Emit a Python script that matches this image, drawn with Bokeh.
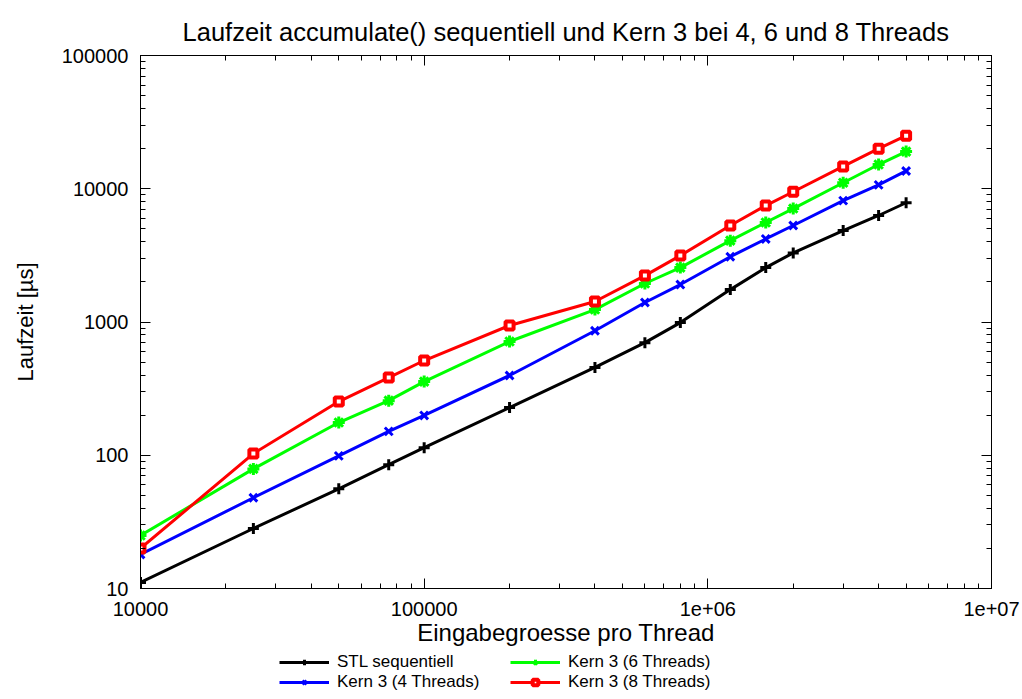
from bokeh.plotting import figure
from bokeh.layouts import column
from bokeh.models import (LogAxis, LogTicker, CustomJSTickFormatter, Legend, LegendItem,
                          Range1d)
from bokeh.embed import file_html
from bokeh.resources import INLINE

# ---- data ----
sizes = [10000, 25000, 50000, 75000, 100000, 200000, 400000, 600000, 800000,
         1200000, 1600000, 2000000, 3000000, 4000000, 5000000]
stl_seq = [11.1, 28.2, 56, 85, 114, 228, 456, 700, 990, 1750, 2560, 3300, 4850, 6300, 7850]
kern3_4 = [18, 48, 99, 151, 199, 397, 860, 1400, 1910, 3090, 4200, 5300, 8150, 10700, 13600]
kern3_6 = [25, 79, 176, 257, 357, 714, 1240, 1945, 2560, 4080, 5580, 7100, 11100, 15200, 19000]
kern3_8 = [20, 103, 253, 383, 514, 942, 1425, 2230, 3150, 5300, 7480, 9500, 14700, 20000, 25000]

series_names = ["STL sequentiell", "Kern 3 (4 Threads)", "Kern 3 (6 Threads)", "Kern 3 (8 Threads)"]
title_text = "Laufzeit accumulate() sequentiell und Kern 3 bei 4, 6 und 8 Threads"
x_label = "Eingabegroesse pro Thread"
y_label = "Laufzeit [\u00b5s]"

FONT = "Liberation Sans"

p = figure(frame_width=851, frame_height=533, x_axis_type="log", y_axis_type="log",
           x_range=Range1d(1e4, 1e7), y_range=Range1d(10, 1e5),
           output_backend="svg", toolbar_location=None,
           min_border_left=140, min_border_right=31, min_border_top=55, min_border_bottom=64)

p.title.text = title_text
p.title.text_font = FONT
p.title.text_font_size = "25.5px"
p.title.text_font_style = "normal"
p.title.align = "center"
p.title.text_color = "#000000"
p.title.standoff = 19

p.grid.visible = False
p.outline_line_color = "black"
p.outline_line_width = 1
p.background_fill_color = "white"
p.border_fill_color = "white"

fmt_x = CustomJSTickFormatter(code="""
const e = Math.round(Math.log10(tick));
if (tick >= 1e6) { return "1e+" + String(e).padStart(2, "0"); }
return tick.toFixed(0);
""")
fmt_y = CustomJSTickFormatter(code="return tick.toFixed(0);")
fmt_blank = CustomJSTickFormatter(code="return '';")

def style_axis(ax):
    ax.major_tick_in = 10
    ax.major_tick_out = 0
    ax.minor_tick_in = 5
    ax.minor_tick_out = 0
    ax.axis_line_color = "black"
    ax.major_tick_line_color = "black"
    ax.minor_tick_line_color = "black"
    ax.major_label_text_font = FONT
    ax.major_label_text_font_size = "20px"
    ax.major_label_text_color = "black"
    ax.axis_label_text_font = FONT
    ax.axis_label_text_font_style = "normal"
    ax.axis_label_text_color = "black"

xa = p.xaxis[0]
xa.ticker = LogTicker(num_minor_ticks=10)
xa.formatter = fmt_x
style_axis(xa)
xa.axis_label = x_label
xa.axis_label_text_font_size = "24px"
xa.major_label_standoff = 13
xa.axis_label_standoff = 0

ya = p.yaxis[0]
ya.ticker = LogTicker(num_minor_ticks=10)
ya.formatter = fmt_y
style_axis(ya)
ya.axis_label = y_label
ya.axis_label_text_font_size = "22px"
ya.major_label_standoff = 12
ya.axis_label_standoff = 21

top_ax = LogAxis(ticker=LogTicker(num_minor_ticks=10), formatter=fmt_blank)
style_axis(top_ax)
top_ax.major_label_standoff = 0
p.add_layout(top_ax, "above")
right_ax = LogAxis(ticker=LogTicker(num_minor_ticks=10), formatter=fmt_blank)
style_axis(right_ax)
right_ax.major_label_standoff = 0
p.add_layout(right_ax, "right")

styles = [
    (stl_seq, "#000000", "cross", 11, 3, "#000000"),
    (kern3_4, "#0000ff", "x", 11, 3, "#0000ff"),
    (kern3_6, "#00ff00", "asterisk", 12, 3, "#00ff00"),
    (kern3_8, "#ff0000", "square", 8, 4, "#ffffff"),
]

for (vals, col, mk, sz, lw, fill), name in zip(styles, series_names):
    p.line(sizes, vals, line_color=col, line_width=3)
    p.scatter(sizes, vals, marker=mk, size=sz, line_color=col, line_width=lw,
              fill_color=fill)

# ---- legend strip below the plot (its own series renderers lie outside its view) ----
leg = figure(width=1022, height=47, x_range=Range1d(0, 1), y_range=Range1d(0, 1),
             output_backend="svg", toolbar_location=None,
             min_border=0, x_axis_location=None, y_axis_location=None)
leg.grid.visible = False
leg.outline_line_color = None
leg.background_fill_color = "white"
leg.border_fill_color = "white"

items = []
for (vals, col, mk, sz, lw, fill), name in zip(styles, series_names):
    ln = leg.line(sizes, vals, line_color=col, line_width=3)
    sc = leg.scatter(sizes, vals, marker=mk, size=sz, line_color=col,
                     line_width=lw, fill_color=fill)
    items.append(LegendItem(label=name, renderers=[ln, sc]))

def make_legend(its, vx):
    return Legend(items=its, location=(vx, 7), orientation="vertical",
                  label_text_font=FONT, label_text_font_size="17px",
                  label_text_color="black",
                  label_height=14, glyph_height=14, glyph_width=50,
                  spacing=0, padding=0, margin=0, border_line_color=None,
                  background_fill_alpha=0, label_standoff=8)

leg.add_layout(make_legend(items[:2], 139))
leg.add_layout(make_legend(items[2:], 370))

layout = column(p, leg, spacing=0)
open("out.html", "w").write(file_html(layout, INLINE))
